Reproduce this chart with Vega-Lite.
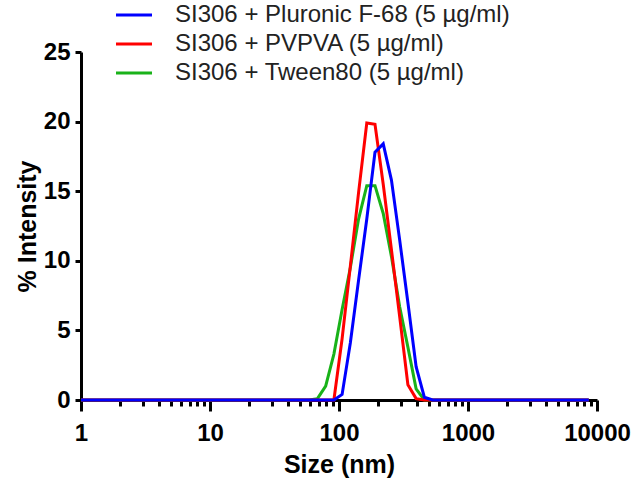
{
  "$schema": "https://vega.github.io/schema/vega-lite/v6.json",
  "width": 516,
  "height": 348,
  "autosize": {"type": "none"},
  "padding": {"left": 81, "top": 52, "right": 38, "bottom": 89},
  "background": "white",
  "config": {
    "view": {"stroke": null},
    "font": "Liberation Sans",
    "axisY": {
      "grid": false,
      "domainColor": "black", "domainWidth": 3,
      "tickColor": "black", "tickWidth": 3, "tickSize": 6,
      "labelFont": "Liberation Sans", "labelFontWeight": "bold", "labelFontSize": 24, "labelColor": "black",
      "labelPadding": 5,
      "titleFont": "Liberation Sans", "titleFontWeight": "bold", "titleFontSize": 25, "titleColor": "black",
      "titlePadding": 3
    }
  },
  "data": {
    "values": [
      {"size": 1, "intensity": 0, "sample": "SI306 + Tween80 (5 µg/ml)"},
      {"size": 58.77, "intensity": 0, "sample": "SI306 + Tween80 (5 µg/ml)"},
      {"size": 68.06, "intensity": 0.1, "sample": "SI306 + Tween80 (5 µg/ml)"},
      {"size": 78.82, "intensity": 1.0, "sample": "SI306 + Tween80 (5 µg/ml)"},
      {"size": 91.28, "intensity": 3.3, "sample": "SI306 + Tween80 (5 µg/ml)"},
      {"size": 105.7, "intensity": 6.5, "sample": "SI306 + Tween80 (5 µg/ml)"},
      {"size": 122.4, "intensity": 9.5, "sample": "SI306 + Tween80 (5 µg/ml)"},
      {"size": 141.8, "intensity": 13.0, "sample": "SI306 + Tween80 (5 µg/ml)"},
      {"size": 164.2, "intensity": 15.4, "sample": "SI306 + Tween80 (5 µg/ml)"},
      {"size": 190.1, "intensity": 15.4, "sample": "SI306 + Tween80 (5 µg/ml)"},
      {"size": 220.2, "intensity": 13.4, "sample": "SI306 + Tween80 (5 µg/ml)"},
      {"size": 255.0, "intensity": 10.3, "sample": "SI306 + Tween80 (5 µg/ml)"},
      {"size": 295.3, "intensity": 6.7, "sample": "SI306 + Tween80 (5 µg/ml)"},
      {"size": 342.0, "intensity": 3.8, "sample": "SI306 + Tween80 (5 µg/ml)"},
      {"size": 396.1, "intensity": 0.8, "sample": "SI306 + Tween80 (5 µg/ml)"},
      {"size": 458.7, "intensity": 0, "sample": "SI306 + Tween80 (5 µg/ml)"},
      {"size": 8635, "intensity": 0, "sample": "SI306 + Tween80 (5 µg/ml)"},

      {"size": 1, "intensity": 0, "sample": "SI306 + PVPVA (5 µg/ml)"},
      {"size": 91.28, "intensity": 0, "sample": "SI306 + PVPVA (5 µg/ml)"},
      {"size": 105.7, "intensity": 4.4, "sample": "SI306 + PVPVA (5 µg/ml)"},
      {"size": 122.4, "intensity": 9.6, "sample": "SI306 + PVPVA (5 µg/ml)"},
      {"size": 141.8, "intensity": 14.9, "sample": "SI306 + PVPVA (5 µg/ml)"},
      {"size": 164.2, "intensity": 19.9, "sample": "SI306 + PVPVA (5 µg/ml)"},
      {"size": 190.1, "intensity": 19.8, "sample": "SI306 + PVPVA (5 µg/ml)"},
      {"size": 220.2, "intensity": 15.5, "sample": "SI306 + PVPVA (5 µg/ml)"},
      {"size": 255.0, "intensity": 10.8, "sample": "SI306 + PVPVA (5 µg/ml)"},
      {"size": 295.3, "intensity": 6.0, "sample": "SI306 + PVPVA (5 µg/ml)"},
      {"size": 342.0, "intensity": 1.1, "sample": "SI306 + PVPVA (5 µg/ml)"},
      {"size": 396.1, "intensity": 0.1, "sample": "SI306 + PVPVA (5 µg/ml)"},
      {"size": 458.7, "intensity": 0, "sample": "SI306 + PVPVA (5 µg/ml)"},
      {"size": 8635, "intensity": 0, "sample": "SI306 + PVPVA (5 µg/ml)"},

      {"size": 1, "intensity": 0, "sample": "SI306 + Pluronic F-68 (5 µg/ml)"},
      {"size": 91.28, "intensity": 0, "sample": "SI306 + Pluronic F-68 (5 µg/ml)"},
      {"size": 105.7, "intensity": 0.4, "sample": "SI306 + Pluronic F-68 (5 µg/ml)"},
      {"size": 122.4, "intensity": 4.1, "sample": "SI306 + Pluronic F-68 (5 µg/ml)"},
      {"size": 141.8, "intensity": 8.6, "sample": "SI306 + Pluronic F-68 (5 µg/ml)"},
      {"size": 164.2, "intensity": 13.0, "sample": "SI306 + Pluronic F-68 (5 µg/ml)"},
      {"size": 190.1, "intensity": 17.8, "sample": "SI306 + Pluronic F-68 (5 µg/ml)"},
      {"size": 220.2, "intensity": 18.4, "sample": "SI306 + Pluronic F-68 (5 µg/ml)"},
      {"size": 255.0, "intensity": 15.8, "sample": "SI306 + Pluronic F-68 (5 µg/ml)"},
      {"size": 295.3, "intensity": 11.5, "sample": "SI306 + Pluronic F-68 (5 µg/ml)"},
      {"size": 342.0, "intensity": 7.0, "sample": "SI306 + Pluronic F-68 (5 µg/ml)"},
      {"size": 396.1, "intensity": 2.4, "sample": "SI306 + Pluronic F-68 (5 µg/ml)"},
      {"size": 458.7, "intensity": 0.2, "sample": "SI306 + Pluronic F-68 (5 µg/ml)"},
      {"size": 531.2, "intensity": 0, "sample": "SI306 + Pluronic F-68 (5 µg/ml)"},
      {"size": 8635, "intensity": 0, "sample": "SI306 + Pluronic F-68 (5 µg/ml)"}
    ]
  },
  "layer": [
    {
      "mark": {"type": "line", "strokeWidth": 3, "strokeOpacity": 0},
      "encoding": {
        "x": {
          "field": "size", "type": "quantitative",
          "scale": {"type": "log", "domain": [1, 10000], "nice": false},
          "axis": {
            "orient": "bottom",
            "values": [2,3,4,5,6,7,8,9,20,30,40,50,60,70,80,90,200,300,400,500,600,700,800,900,2000,3000,4000,5000,6000,7000,8000,9000],
            "labels": false, "domain": false, "grid": false, "title": null,
            "tickSize": 6, "tickWidth": 3, "tickColor": "black"
          }
        },
        "y": {
          "field": "intensity", "type": "quantitative",
          "scale": {"domain": [0, 25], "nice": false},
          "axis": {"values": [0, 5, 10, 15, 20, 25], "title": "% Intensity"}
        },
        "detail": {"field": "sample"}
      }
    },
    {
      "mark": {"type": "line", "strokeWidth": 3},
      "encoding": {
        "x": {
          "field": "size", "type": "quantitative",
          "scale": {"type": "log", "domain": [1, 10000], "nice": false},
          "axis": {
            "orient": "bottom",
            "values": [1, 10, 100, 1000, 10000],
            "format": "d",
            "grid": false,
            "title": "Size (nm)",
            "domainColor": "black", "domainWidth": 3,
            "tickColor": "black", "tickWidth": 3, "tickSize": 11,
            "labelFont": "Liberation Sans", "labelFontWeight": "bold", "labelFontSize": 24, "labelColor": "black",
            "labelPadding": 10, "labelFlush": false,
            "titleFont": "Liberation Sans", "titleFontWeight": "bold", "titleFontSize": 25, "titleColor": "black",
            "titlePadding": 7
          }
        },
        "y": {
          "field": "intensity", "type": "quantitative",
          "scale": {"domain": [0, 25], "nice": false},
          "axis": {"values": [0, 5, 10, 15, 20, 25], "title": "% Intensity"}
        },
        "color": {
          "field": "sample", "type": "nominal",
          "scale": {
            "domain": ["SI306 + Pluronic F-68 (5 µg/ml)", "SI306 + PVPVA (5 µg/ml)", "SI306 + Tween80 (5 µg/ml)"],
            "range": ["#0000ff", "#ff0000", "#19b219"]
          },
          "legend": {
            "orient": "none",
            "legendX": 41,
            "legendY": -49,
            "padding": 0,
            "title": null,
            "symbolType": "M-2,0H2",
            "symbolSize": 324,
            "symbolStrokeWidth": 3,
            "labelFont": "Liberation Sans",
            "labelFontSize": 24,
            "labelColor": "#222222",
            "labelLimit": 500,
            "labelOffset": 29,
            "rowPadding": 5
          }
        }
      }
    }
  ],
  "resolve": {"scale": {"x": "shared"}, "axis": {"x": "independent"}}
}
